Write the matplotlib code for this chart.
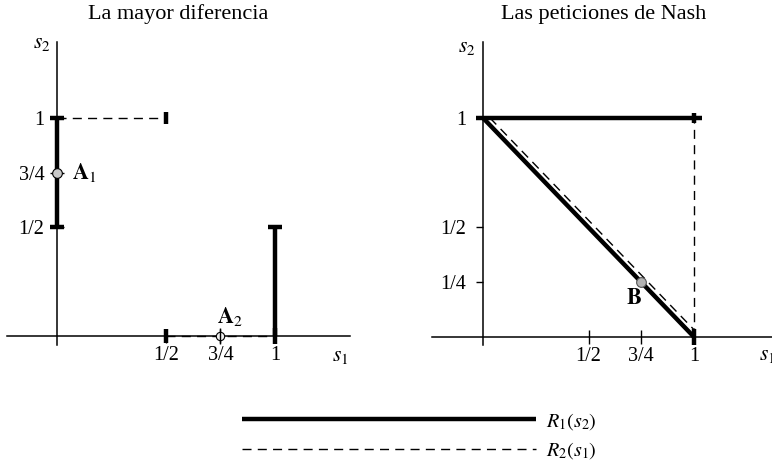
import matplotlib
matplotlib.use("Agg")
import matplotlib.pyplot as plt

plt.rcParams['font.family'] = ['Liberation Serif', 'DejaVu Serif']
plt.rcParams['mathtext.fontset'] = 'stix'

FS = 14.5
THICK = 3.2
THIN = 1.0
DASH = (6.5, 4.5)

# ---- data: "La mayor diferencia" ----
left_titles = "La mayor diferencia"
left_xticks = [0.5, 0.75, 1.0]
left_yticks = [0.5, 0.75, 1.0]
tick_names = {0.25: "1/4", 0.5: "1/2", 0.75: "3/4", 1.0: "1"}

# R1 : thick vertical piece on the s2 axis, and one at s1 = 1
r1_left_a_x = [0.0, 0.0]
r1_left_a_y = [0.5, 1.0]
r1_left_b_x = [1.0, 1.0]
r1_left_b_y = [0.0, 0.5]
# R2 : dashed horizontal pieces
r2_left_a_x = [0.0, 0.5]
r2_left_a_y = [1.0, 1.0]
r2_left_b_x = [0.5, 1.0]
r2_left_b_y = [0.0, 0.0]
a1 = (0.0, 0.75)
a2 = (0.75, 0.0)

# ---- data: "Las peticiones de Nash" ----
right_title = "Las peticiones de Nash"
right_xticks = [0.5, 0.75, 1.0]
right_yticks = [0.25, 0.5, 1.0]
r1_right_top_x = [-0.035, 1.04]
r1_right_top_y = [1.0, 1.0]
r1_right_diag_x = [0.0, 1.0]
r1_right_diag_y = [1.0, 0.0]
r2_right_diag_x = [0.033, 1.0]
r2_right_diag_y = [1.0, 0.033]
r2_right_vert_x = [1.0, 1.0]
r2_right_vert_y = [0.0, 1.0]
b_point = (0.75, 0.25)

W, H = 772, 462
fig = plt.figure(figsize=(W / 100, H / 100), dpi=100)


def px_axes(x0, x1, y_top, y_bot):
    return fig.add_axes([x0 / W, 1 - y_bot / H, (x1 - x0) / W, (y_bot - y_top) / H])


def setup_axis(ax, xlim, ylim):
    ax.set_xlim(*xlim)
    ax.set_ylim(*ylim)
    for side in ('top', 'right'):
        ax.spines[side].set_visible(False)
    for side in ('left', 'bottom'):
        ax.spines[side].set_position(('data', 0))
        ax.spines[side].set_linewidth(1.1)
    ax.patch.set_visible(False)


def dashed(ax, x, y, **kw):
    line, = ax.plot(x, y, color='black', lw=THIN, **kw)
    line.set_dashes(DASH)
    return line


# ---------------- left panel ----------------
ax1 = px_axes(7, 350, 42, 345)
setup_axis(ax1, (-0.229, 1.344), (-0.041, 1.349))
ax1.set_xticks(left_xticks, [tick_names[v] for v in left_xticks], fontsize=FS)
ax1.set_yticks(left_yticks, [tick_names[v] for v in left_yticks], fontsize=FS)
ax1.tick_params(axis='both', direction='inout', length=10, width=1.0)
ax1.tick_params(axis='x', pad=2)
ax1.tick_params(axis='y', pad=4)

h_r1, = ax1.plot(r1_left_a_x, r1_left_a_y, color='black', lw=THICK, solid_capstyle='butt')
ax1.plot(r1_left_b_x, r1_left_b_y, color='black', lw=THICK, solid_capstyle='butt')
h_r2 = dashed(ax1, r2_left_a_x, r2_left_a_y)
dashed(ax1, r2_left_b_x, r2_left_b_y)

# end caps of the pieces
ax1.plot([r1_left_a_x[0]] * 2, r1_left_a_y, ls='none', marker='_', ms=10, mew=THICK, color='black')
ax1.plot(r1_left_b_x[1], r1_left_b_y[1], ls='none', marker='_', ms=10, mew=THICK, color='black')
ax1.plot(r1_left_b_x[0], r1_left_b_y[0], ls='none', marker='|', ms=11, mew=THICK, color='black', clip_on=False)
ax1.plot(r2_left_a_x[1], r2_left_a_y[1], ls='none', marker='|', ms=9, mew=THICK, color='black')
ax1.plot(r2_left_b_x[0], r2_left_b_y[0], ls='none', marker='|', ms=10, mew=THICK, color='black', clip_on=False)

ax1.plot(*a1, ls='none', marker='o', ms=7, mfc='#c8c8c8', mec='black', mew=0.8, zorder=5)
ax1.plot(*a2, ls='none', marker='o', ms=6, mfc='#f0f0f0', mec='black', mew=0.8, zorder=5, clip_on=False)
ax1.plot(*a2, ls='none', marker='|', ms=12, mew=1.0, color='black', zorder=6, clip_on=False)
ax1.text(a1[0] + 0.07, a1[1], r'$\mathbf{A}_1$', fontsize=FS + 1.5, va='center', ha='left')
ax1.text(a2[0] - 0.015, a2[1] + 0.035, r'$\mathbf{A}_2$', fontsize=FS + 1.5, va='bottom', ha='left')

ax1.text(-0.07, 1.34, r'$s_2$', fontsize=FS + 1, ha='center', va='center', clip_on=False)
ax1.text(1.30, -0.092, r'$s_1$', fontsize=FS + 1, ha='center', va='center', clip_on=False)

# ---------------- right panel ----------------
ax2 = px_axes(432, 772, 42, 345)
setup_axis(ax2, (-0.242, 1.37), (-0.037, 1.347))
ax2.set_xticks(right_xticks, [tick_names[v] for v in right_xticks], fontsize=FS)
ax2.set_yticks(right_yticks, [tick_names[v] for v in right_yticks], fontsize=FS)
ax2.tick_params(axis='x', direction='inout', length=10, width=1.0, pad=2)
ax2.tick_params(axis='y', direction='out', length=5, width=1.0, pad=7)

ax2.plot(r1_right_top_x, r1_right_top_y, color='black', lw=THICK, solid_capstyle='butt')
ax2.plot(r1_right_diag_x, r1_right_diag_y, color='black', lw=THICK, solid_capstyle='butt')
dashed(ax2, r2_right_diag_x, r2_right_diag_y)
dashed(ax2, r2_right_vert_x, r2_right_vert_y)
ax2.plot(r1_right_diag_x[1], r1_right_diag_y[1], ls='none', marker='|', ms=11, mew=THICK, color='black', clip_on=False)
ax2.plot(r2_right_vert_x[1], r2_right_vert_y[1], ls='none', marker='|', ms=7, mew=THICK, color='black')

ax2.plot(*b_point, ls='none', marker='o', ms=7, mfc='#b4b4b4', mec='#555555', mew=0.8, zorder=5)
ax2.text(0.716, 0.175, r'$\mathbf{B}$', fontsize=FS + 1.5, ha='center', va='center')

ax2.text(-0.076, 1.32, r'$s_2$', fontsize=FS + 1, ha='center', va='center', clip_on=False)
ax2.text(1.346, -0.087, r'$s_1$', fontsize=FS + 1, ha='center', va='center', clip_on=False)

# ---------------- titles and legend ----------------
fig.text(178 / W, 1 - 14 / H, left_titles, fontsize=FS + 1.5, ha='center', va='center')
fig.text(604 / W, 1 - 14 / H, right_title, fontsize=FS + 1.5, ha='center', va='center')

fig.legend([h_r1, h_r2], [r'$R_1(s_2)$', r'$R_2(s_1)$'],
           loc='center left', bbox_to_anchor=(242 / W, 1 - 436 / H),
           frameon=False, fontsize=FS, handlelength=212 / FS,
           handletextpad=0.45, labelspacing=0.42, borderpad=0, borderaxespad=0)

fig.savefig("out.png", dpi=100)
